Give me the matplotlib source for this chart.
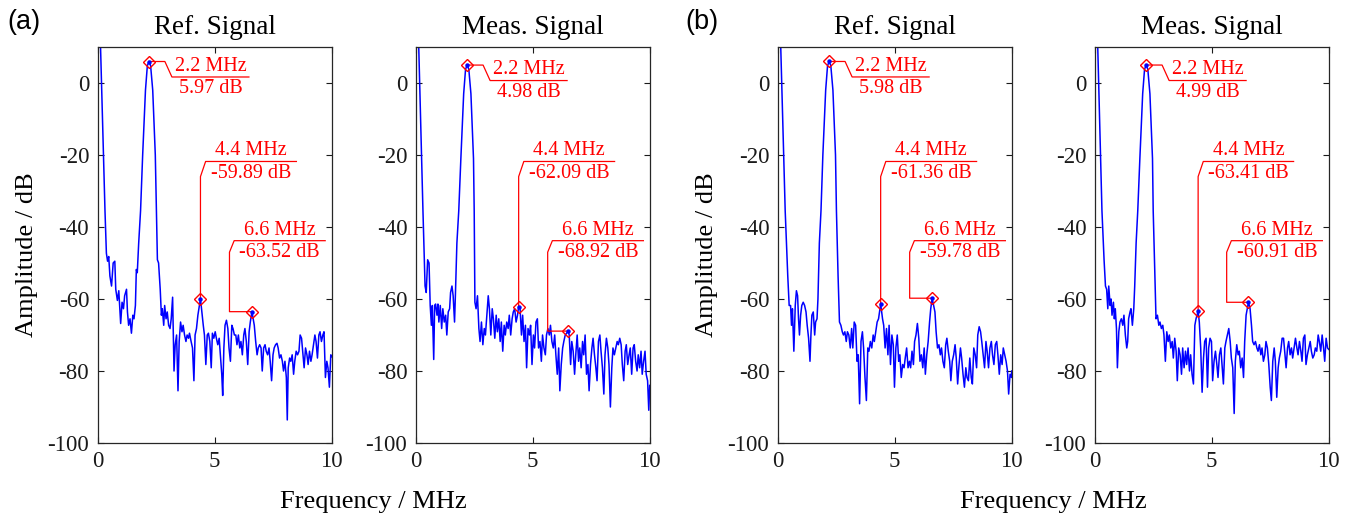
import matplotlib
matplotlib.use("Agg")
import matplotlib.pyplot as plt
import numpy as np

plt.rcParams['font.family'] = ['Liberation Serif', 'DejaVu Serif']
plt.rcParams['axes.unicode_minus'] = False

# ---------------- data (frequency MHz, amplitude dB) ----------------
ref_a = [(0.0,35),(0.13,10),(0.32,-35.5),(0.38,-47.3),(0.43,-49.5),(0.48,-48.2),(0.53,-53.6),(0.60,-56.4),(0.67,-50.0),(0.74,-49.5),(0.78,-57.3),(0.85,-60.4),(0.91,-57.7),(0.99,-66.8),(1.05,-60.9),(1.11,-62.7),(1.16,-59.1),(1.24,-57.3),(1.28,-63.6),(1.33,-67.3),(1.39,-65.5),(1.45,-69.5),(1.51,-64.5),(1.56,-65.5),(1.62,-61.8),(1.66,-51.8),(1.70,-52.7),(1.76,-44.5),(1.84,-35.5),(1.93,-20),(2.05,-2),(2.13,4.8),(2.20,5.97),(2.27,4.8),(2.36,-2),(2.47,-20),(2.52,-35.5),(2.56,-49.1),(2.61,-50.0),(2.68,-57.3),(2.73,-64.5),(2.77,-62.7),(2.83,-67.3),(2.87,-61.8),(2.93,-65.5),(2.98,-63.6),(3.04,-67.3),(3.10,-68.2),(3.15,-65.5),(3.21,-59.5),(3.27,-80.0),(3.32,-72.7),(3.38,-70.0),(3.44,-85.5),(3.49,-71.8),(3.55,-66.4),(3.61,-69.1),(3.66,-67.3),(3.72,-70.0),(3.78,-71.8),(3.83,-70.0),(3.89,-70.9),(3.93,-69.5),(4.00,-71.8),(4.06,-73.6),(4.12,-82.7),(4.17,-70.0),(4.23,-68.2),(4.29,-64.5),(4.40,-59.89),(4.46,-63.6),(4.52,-67.3),(4.57,-70.0),(4.63,-78.2),(4.69,-70.0),(4.74,-69.5),(4.80,-71.8),(4.86,-79.1),(4.91,-69.5),(4.97,-70.9),(5.03,-69.1),(5.08,-70.9),(5.14,-72.7),(5.20,-70.9),(5.25,-75.5),(5.31,-80.9),(5.35,-86.8),(5.40,-73.6),(5.45,-67.3),(5.51,-65.9),(5.57,-68.2),(5.62,-73.6),(5.68,-77.3),(5.74,-67.3),(5.79,-68.2),(5.85,-70.0),(5.91,-70.0),(5.96,-72.7),(6.02,-70.0),(6.08,-73.6),(6.13,-71.8),(6.19,-75.5),(6.25,-70.0),(6.30,-68.2),(6.36,-71.8),(6.42,-78.2),(6.48,-69.1),(6.53,-66.4),(6.60,-63.52),(6.70,-67.3),(6.76,-71.8),(6.82,-75.5),(6.87,-73.6),(6.93,-72.7),(6.99,-73.6),(7.04,-80.0),(7.10,-73.6),(7.16,-72.7),(7.21,-74.5),(7.27,-75.5),(7.33,-73.6),(7.38,-77.3),(7.44,-82.7),(7.50,-75.5),(7.55,-73.6),(7.61,-72.7),(7.67,-72.3),(7.72,-73.6),(7.78,-76.4),(7.84,-75.5),(7.90,-77.3),(7.95,-80.0),(8.01,-77.3),(8.07,-81.8),(8.11,-93.6),(8.15,-79.1),(8.21,-76.4),(8.26,-77.3),(8.32,-75.5),(8.38,-80.9),(8.43,-77.3),(8.49,-74.5),(8.55,-75.5),(8.61,-74.5),(8.66,-70.0),(8.72,-70.9),(8.78,-75.5),(8.83,-79.1),(8.89,-73.6),(8.95,-75.5),(9.00,-78.2),(9.06,-74.5),(9.12,-77.3),(9.17,-75.5),(9.23,-72.7),(9.29,-70.0),(9.34,-71.8),(9.40,-76.4),(9.46,-70.0),(9.51,-69.1),(9.57,-71.8),(9.63,-70.0),(9.68,-69.1),(9.74,-81.8),(9.80,-77.3),(9.85,-79.1),(9.91,-84.5),(9.97,-75.5),(10.0,-76)]

meas_a = [(0.0,35),(0.13,10),(0.31,-35.5),(0.40,-56.4),(0.45,-58.2),(0.51,-49.1),(0.57,-50.0),(0.62,-61.8),(0.67,-67.3),(0.71,-61.8),(0.77,-76.8),(0.81,-61.8),(0.85,-61.4),(0.91,-64.5),(0.95,-61.4),(0.99,-66.4),(1.05,-61.8),(1.11,-68.2),(1.16,-62.7),(1.22,-66.4),(1.28,-64.5),(1.33,-70.0),(1.39,-63.6),(1.45,-62.7),(1.49,-58.2),(1.55,-56.4),(1.60,-59.1),(1.66,-66.4),(1.70,-58.2),(1.76,-44.5),(1.84,-35.5),(1.93,-21),(2.05,-3),(2.13,3.8),(2.20,4.98),(2.27,3.8),(2.36,-3),(2.47,-21),(2.50,-35.5),(2.53,-60.9),(2.58,-62.7),(2.64,-59.1),(2.70,-68.2),(2.75,-71.8),(2.81,-66.4),(2.87,-72.7),(2.93,-68.2),(2.98,-70.0),(3.04,-64.5),(3.10,-59.1),(3.15,-62.7),(3.21,-70.0),(3.27,-62.7),(3.32,-65.5),(3.38,-70.9),(3.44,-64.5),(3.49,-69.1),(3.55,-65.5),(3.61,-71.8),(3.66,-66.4),(3.72,-74.5),(3.78,-67.3),(3.83,-70.0),(3.89,-66.4),(3.95,-68.2),(4.00,-64.5),(4.06,-70.0),(4.12,-65.5),(4.17,-63.6),(4.23,-62.7),(4.29,-66.4),(4.35,-64.5),(4.40,-62.09),(4.46,-62.7),(4.52,-70.0),(4.57,-64.5),(4.63,-71.8),(4.69,-67.3),(4.74,-79.1),(4.80,-68.2),(4.86,-70.0),(4.91,-67.3),(4.97,-78.2),(5.03,-70.0),(5.08,-73.6),(5.14,-66.4),(5.20,-65.5),(5.25,-73.6),(5.31,-71.8),(5.37,-77.3),(5.42,-70.0),(5.48,-73.6),(5.54,-75.5),(5.59,-70.0),(5.65,-68.2),(5.71,-70.0),(5.76,-67.3),(5.82,-71.8),(5.88,-73.6),(5.94,-70.0),(5.99,-75.5),(6.05,-80.9),(6.11,-73.6),(6.16,-85.5),(6.22,-78.2),(6.28,-73.6),(6.33,-71.8),(6.39,-70.0),(6.52,-68.92),(6.56,-70.0),(6.62,-78.2),(6.67,-71.8),(6.73,-74.5),(6.79,-80.9),(6.84,-75.5),(6.90,-70.0),(6.96,-77.3),(7.01,-73.6),(7.07,-79.1),(7.13,-71.8),(7.18,-75.5),(7.24,-70.0),(7.30,-80.9),(7.36,-78.2),(7.41,-85.5),(7.47,-78.2),(7.53,-73.6),(7.58,-70.9),(7.64,-75.5),(7.70,-79.1),(7.75,-82.7),(7.81,-71.8),(7.87,-70.0),(7.92,-74.5),(7.98,-79.1),(8.04,-86.4),(8.09,-75.5),(8.15,-70.9),(8.21,-73.6),(8.26,-78.2),(8.32,-90.0),(8.38,-79.1),(8.43,-73.6),(8.49,-75.5),(8.55,-73.6),(8.61,-71.8),(8.66,-72.7),(8.72,-70.9),(8.78,-72.7),(8.83,-78.2),(8.89,-82.7),(8.95,-74.5),(9.00,-72.7),(9.06,-78.2),(9.12,-75.5),(9.17,-73.6),(9.23,-80.9),(9.29,-73.6),(9.34,-72.7),(9.40,-77.3),(9.46,-80.0),(9.51,-75.5),(9.57,-79.1),(9.63,-74.5),(9.68,-80.9),(9.74,-77.3),(9.80,-74.5),(9.85,-80.9),(9.91,-82.7),(9.96,-90.9),(10.0,-84)]

ref_b = [(0.0,35),(0.13,10),(0.32,-35.5),(0.43,-53.6),(0.49,-61.8),(0.55,-61.8),(0.59,-67.3),(0.63,-62.7),(0.69,-74.5),(0.75,-61.8),(0.80,-57.7),(0.85,-59.1),(0.89,-65.5),(0.93,-70.0),(0.98,-64.5),(1.03,-61.8),(1.09,-60.9),(1.15,-61.8),(1.21,-63.6),(1.26,-67.3),(1.32,-70.9),(1.38,-77.3),(1.42,-70.0),(1.46,-64.5),(1.52,-63.6),(1.58,-70.0),(1.62,-66.4),(1.68,-65.5),(1.72,-60.0),(1.78,-44.5),(1.85,-35.5),(1.93,-20),(2.05,-2),(2.13,4.8),(2.20,5.98),(2.27,4.8),(2.36,-2),(2.47,-20),(2.51,-35.5),(2.58,-53.6),(2.64,-66.4),(2.70,-67.3),(2.76,-69.1),(2.81,-70.0),(2.87,-69.1),(2.93,-71.8),(2.98,-69.1),(3.04,-70.0),(3.10,-73.6),(3.16,-68.2),(3.21,-73.6),(3.27,-66.4),(3.33,-67.3),(3.39,-77.3),(3.44,-75.5),(3.50,-89.1),(3.56,-71.8),(3.62,-69.1),(3.67,-73.6),(3.73,-81.8),(3.79,-88.2),(3.85,-73.6),(3.90,-74.5),(3.96,-71.8),(4.02,-73.6),(4.08,-70.0),(4.13,-71.8),(4.19,-69.1),(4.25,-66.4),(4.31,-65.5),(4.40,-61.36),(4.48,-65.5),(4.53,-67.3),(4.59,-73.6),(4.65,-68.2),(4.71,-75.5),(4.76,-67.3),(4.82,-78.2),(4.88,-70.0),(4.94,-72.7),(4.99,-84.5),(5.05,-73.6),(5.11,-70.0),(5.17,-77.3),(5.22,-75.5),(5.28,-81.8),(5.34,-78.2),(5.40,-79.1),(5.45,-76.4),(5.51,-73.6),(5.57,-79.1),(5.63,-77.3),(5.68,-79.1),(5.74,-74.5),(5.80,-78.2),(5.85,-71.8),(5.91,-70.0),(5.97,-66.8),(6.03,-70.9),(6.08,-77.3),(6.14,-75.5),(6.20,-79.1),(6.26,-73.6),(6.31,-80.9),(6.37,-75.5),(6.43,-71.8),(6.49,-66.4),(6.54,-62.7),(6.60,-59.78),(6.72,-63.6),(6.77,-69.1),(6.83,-73.6),(6.89,-72.7),(6.95,-75.5),(7.00,-73.6),(7.06,-77.3),(7.12,-79.1),(7.18,-72.7),(7.23,-70.9),(7.29,-74.5),(7.35,-77.3),(7.40,-82.7),(7.46,-77.3),(7.52,-75.5),(7.58,-72.7),(7.63,-76.4),(7.69,-83.6),(7.75,-78.2),(7.81,-73.6),(7.86,-76.4),(7.92,-80.9),(7.98,-84.5),(8.04,-79.1),(8.09,-81.8),(8.15,-82.7),(8.21,-76.4),(8.27,-81.8),(8.32,-83.6),(8.38,-73.6),(8.44,-75.5),(8.50,-79.1),(8.55,-70.0),(8.61,-67.7),(8.67,-69.1),(8.72,-71.8),(8.78,-75.5),(8.84,-79.1),(8.90,-71.8),(8.95,-74.5),(9.01,-79.1),(9.07,-73.6),(9.13,-71.8),(9.18,-75.5),(9.24,-78.2),(9.30,-72.7),(9.36,-71.8),(9.41,-75.5),(9.47,-80.9),(9.53,-75.5),(9.59,-78.2),(9.64,-73.6),(9.70,-75.5),(9.76,-77.3),(9.82,-80.0),(9.87,-86.4),(9.93,-80.9),(9.99,-81.8),(10.0,-80)]

meas_b = [(0.0,35),(0.13,10),(0.31,-35.5),(0.40,-49.1),(0.46,-56.4),(0.51,-57.3),(0.56,-62.7),(0.60,-56.4),(0.66,-61.8),(0.70,-60.0),(0.74,-64.5),(0.80,-60.9),(0.84,-65.5),(0.88,-62.7),(0.93,-68.2),(0.97,-79.1),(1.03,-69.1),(1.08,-66.4),(1.14,-65.5),(1.20,-67.3),(1.25,-64.5),(1.31,-70.0),(1.37,-73.6),(1.41,-71.8),(1.45,-65.5),(1.51,-63.6),(1.55,-62.7),(1.61,-67.3),(1.67,-62.7),(1.71,-56.4),(1.77,-44.5),(1.84,-35.5),(1.93,-21),(2.05,-3),(2.13,3.8),(2.20,4.99),(2.27,3.8),(2.36,-3),(2.47,-21),(2.50,-35.5),(2.57,-53.6),(2.62,-65.5),(2.68,-64.5),(2.74,-67.3),(2.79,-66.4),(2.85,-68.2),(2.91,-67.3),(2.96,-70.0),(3.02,-77.3),(3.08,-69.1),(3.14,-71.8),(3.19,-70.0),(3.25,-73.6),(3.31,-71.8),(3.36,-76.4),(3.42,-70.9),(3.48,-74.5),(3.53,-82.7),(3.59,-73.6),(3.65,-75.5),(3.71,-80.9),(3.76,-73.6),(3.82,-79.1),(3.88,-74.5),(3.93,-78.2),(3.99,-73.6),(4.05,-80.0),(4.10,-75.5),(4.16,-80.9),(4.22,-83.6),(4.28,-67.3),(4.33,-65.5),(4.42,-63.41),(4.47,-66.4),(4.53,-73.6),(4.59,-85.9),(4.65,-76.4),(4.70,-71.8),(4.76,-70.9),(4.82,-84.5),(4.87,-73.6),(4.93,-70.9),(4.99,-71.8),(5.04,-82.7),(5.10,-77.3),(5.16,-74.5),(5.22,-78.2),(5.27,-81.8),(5.33,-75.5),(5.39,-73.6),(5.44,-78.2),(5.50,-83.6),(5.56,-73.6),(5.61,-71.8),(5.67,-70.0),(5.73,-68.2),(5.79,-71.8),(5.84,-76.4),(5.90,-79.1),(5.96,-91.8),(6.01,-77.3),(6.07,-72.7),(6.13,-75.5),(6.18,-74.5),(6.24,-79.1),(6.30,-76.4),(6.36,-81.8),(6.41,-71.8),(6.47,-64.5),(6.57,-60.91),(6.64,-62.7),(6.70,-67.3),(6.75,-71.8),(6.81,-72.7),(6.87,-71.8),(6.93,-73.6),(6.98,-74.5),(7.04,-72.7),(7.10,-75.5),(7.15,-73.6),(7.21,-77.3),(7.27,-75.5),(7.32,-71.8),(7.38,-73.6),(7.44,-78.2),(7.50,-84.5),(7.55,-88.2),(7.61,-77.3),(7.67,-73.6),(7.72,-77.3),(7.78,-87.3),(7.84,-79.1),(7.89,-76.4),(7.95,-74.5),(8.01,-70.9),(8.07,-70.9),(8.12,-74.5),(8.18,-79.1),(8.24,-73.6),(8.29,-71.8),(8.35,-75.5),(8.41,-73.6),(8.46,-76.4),(8.52,-73.6),(8.58,-70.9),(8.64,-73.6),(8.69,-75.5),(8.75,-71.8),(8.81,-74.5),(8.86,-77.3),(8.92,-70.9),(8.98,-70.0),(9.03,-78.2),(9.09,-75.5),(9.15,-73.6),(9.21,-71.8),(9.26,-74.5),(9.32,-76.4),(9.38,-75.5),(9.43,-73.6),(9.49,-74.5),(9.55,-70.0),(9.60,-71.8),(9.66,-74.5),(9.72,-70.0),(9.78,-73.6),(9.83,-77.3),(9.89,-70.9),(9.95,-73.6),(10.0,-74)]

# marked peaks: (marker frequency, marker amplitude, label frequency text, label amplitude text)
peaks_ref_a = [(2.20, 5.97, "2.2 MHz", "5.97 dB"), (4.40, -59.89, "4.4 MHz", "-59.89 dB"), (6.60, -63.52, "6.6 MHz", "-63.52 dB")]
peaks_meas_a = [(2.20, 4.98, "2.2 MHz", "4.98 dB"), (4.40, -62.09, "4.4 MHz", "-62.09 dB"), (6.52, -68.92, "6.6 MHz", "-68.92 dB")]
peaks_ref_b = [(2.20, 5.98, "2.2 MHz", "5.98 dB"), (4.40, -61.36, "4.4 MHz", "-61.36 dB"), (6.60, -59.78, "6.6 MHz", "-59.78 dB")]
peaks_meas_b = [(2.20, 4.99, "2.2 MHz", "4.99 dB"), (4.42, -63.41, "4.4 MHz", "-63.41 dB"), (6.57, -60.91, "6.6 MHz", "-60.91 dB")]

titles = ["Ref. Signal", "Meas. Signal", "Ref. Signal", "Meas. Signal"]
x_ticks = [0, 5, 10]
y_ticks = [-100, -80, -60, -40, -20, 0]

# ---------------- layout ----------------
W, H = 1353, 517
fig = plt.figure(figsize=(W / 100, H / 100), dpi=100)
lefts_px = [97.5, 415.7, 777.7, 1094.7]
ax_w_px, top_px, bot_px = 234, 47, 443

RED = '#ff0000'
BLUE = '#0000ff'
TFS = 14.5


def label(ax, cx, uy, t1, t2):
    ax.annotate(t1, xy=(cx, uy), xytext=(0, 0.8), textcoords='offset points',
                ha='center', va='bottom', color=RED, fontsize=TFS)
    ax.annotate(t2, xy=(cx, uy), xytext=(0, -1.5), textcoords='offset points',
                ha='center', va='top', color=RED, fontsize=TFS)


def tips(ax, peaks):
    # peak 1: leader to the right
    f, a, t1, t2 = peaks[0]
    px = [f, f + 0.68, f + 0.98, f + 4.27]
    py = [a, a, a - 4.3, a - 4.3]
    ax.plot(px, py, color=RED, lw=0.9)
    label(ax, (px[2] + px[3]) / 2, py[2], t1, t2)
    # peak 2: leader goes up
    f, a, t1, t2 = peaks[1]
    px = [f, f, f + 0.22, 8.5]
    py = [a, -26, -21.8, -21.8]
    ax.plot(px, py, color=RED, lw=0.9)
    label(ax, (px[2] + px[3]) / 2, py[2], t1, t2)
    # peak 3: leader goes left then up
    f, a, t1, t2 = peaks[2]
    px = [f, 5.64, 5.64, 5.84, 9.73]
    py = [a, a, -47, -43.8, -43.8]
    ax.plot(px, py, color=RED, lw=0.9)
    label(ax, (px[3] + px[4]) / 2, py[3], t1, t2)
    for f, a, _, _ in peaks:
        ax.plot([f], [a], marker='D', ms=6.5, mfc='none', mec=RED, mew=1.0, zorder=5)
        ax.plot([f], [a], marker='o', ms=2.2, color=BLUE, zorder=6)


series = [ref_a, meas_a, ref_b, meas_b]
peaks_all = [peaks_ref_a, peaks_meas_a, peaks_ref_b, peaks_meas_b]
for i in range(4):
    ax = fig.add_axes([lefts_px[i] / W, (H - bot_px) / H, ax_w_px / W, (bot_px - top_px) / H])
    fr = [p[0] for p in series[i]]
    am = [p[1] for p in series[i]]
    ax.plot(fr, am, color=BLUE, lw=1.1)
    tips(ax, peaks_all[i])
    ax.set_xlim(0, 10)
    ax.set_ylim(-100, 10)
    ax.set_xticks(x_ticks)
    ax.set_yticks(y_ticks)
    ax.tick_params(direction='in', top=True, right=True, length=4, width=0.8,
                   labelsize=16.5, pad=6, colors='#1a1a1a')
    for s in ax.spines.values():
        s.set_color('#262626')
        s.set_linewidth(0.9)
    ax.set_title(titles[i], fontsize=19.5, pad=9)

for xc in [27, 707]:
    fig.text(xc / W, 1 - 255 / H, 'Amplitude / dB', rotation=90, ha='center', va='center', fontsize=19)
for xc in [373, 1053]:
    fig.text(xc / W, 1 - 502 / H, 'Frequency / MHz', ha='center', va='center', fontsize=19)
fig.text(24 / W, 1 - 22 / H, '(a)', ha='center', va='center', fontsize=19.5, family='Liberation Sans')
fig.text(702 / W, 1 - 22 / H, '(b)', ha='center', va='center', fontsize=19.5, family='Liberation Sans')

fig.savefig('out.png', dpi=100)
